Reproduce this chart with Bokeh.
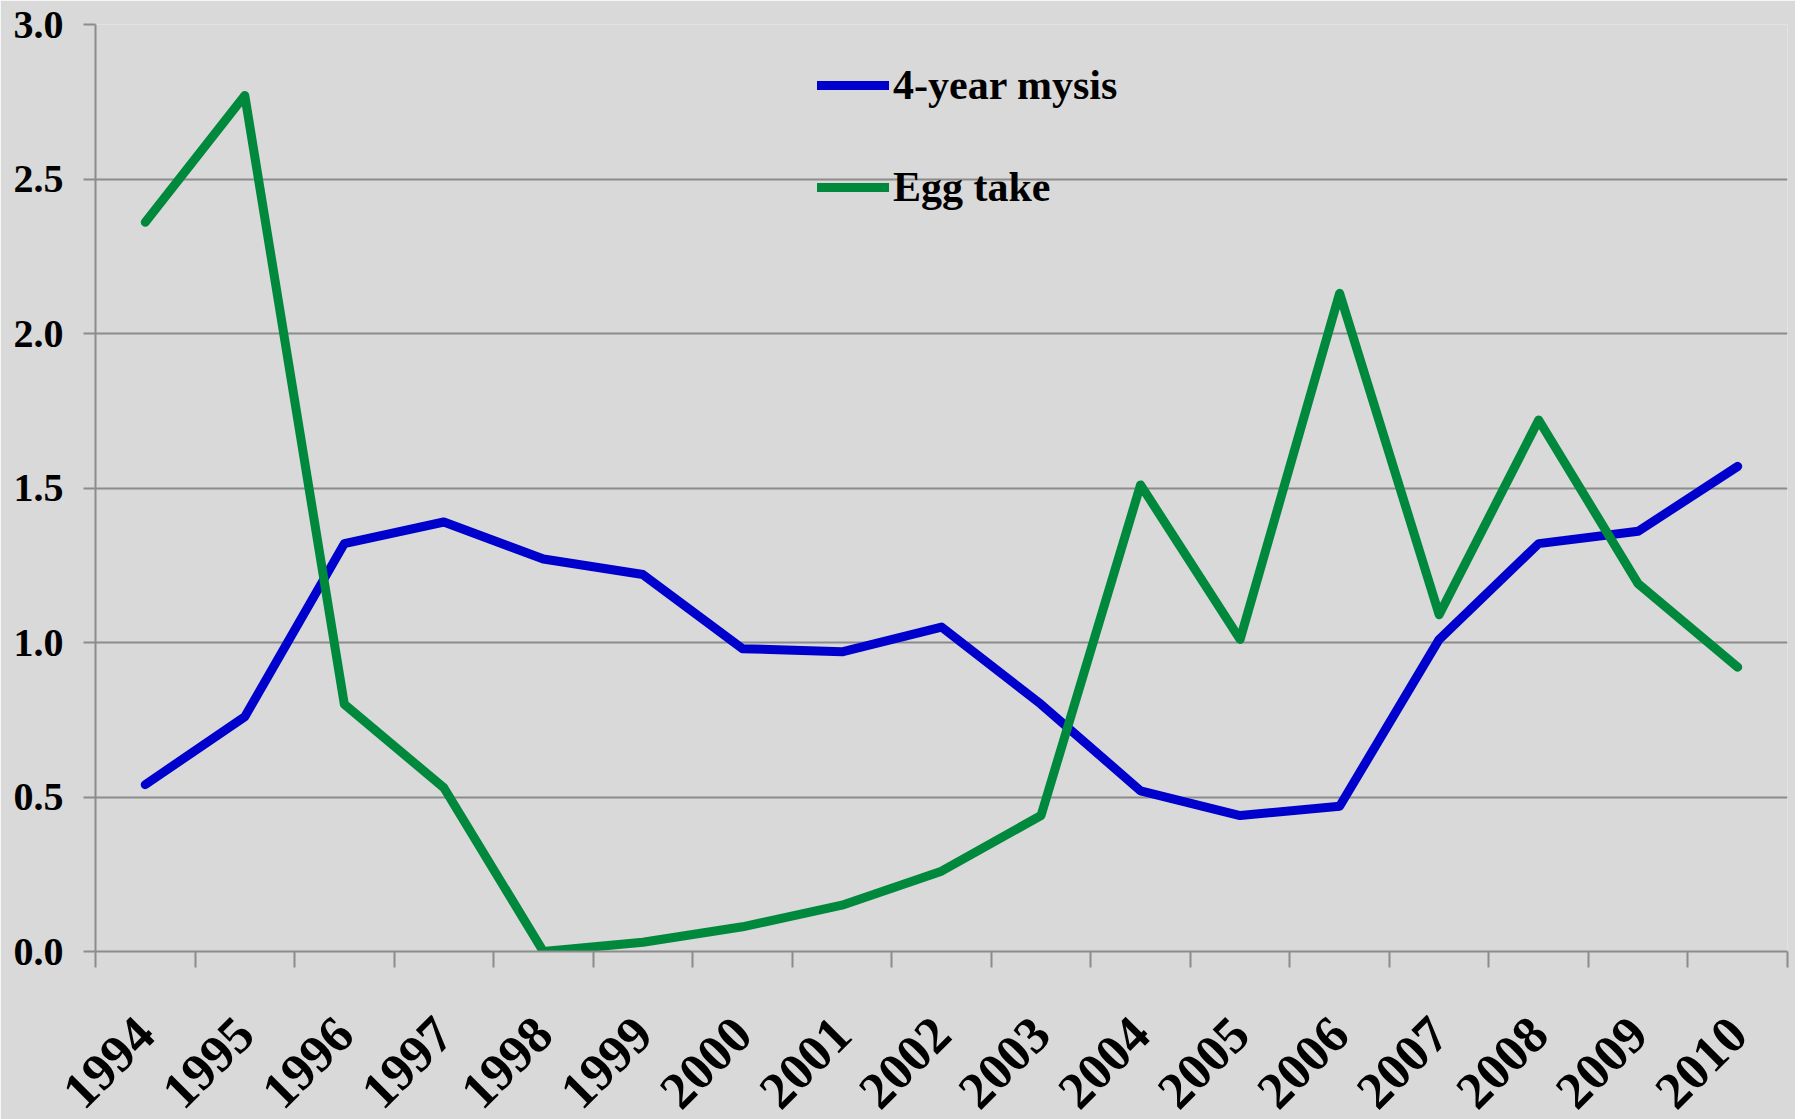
from bokeh.plotting import figure
from bokeh.models import FixedTicker, NumeralTickFormatter, Legend, LegendItem, Range1d
from bokeh.embed import file_html
from bokeh.resources import INLINE
import math

years = [1994, 1995, 1996, 1997, 1998, 1999, 2000, 2001, 2002,
         2003, 2004, 2005, 2006, 2007, 2008, 2009, 2010]
mysis = [0.54, 0.76, 1.32, 1.39, 1.27, 1.22, 0.98, 0.97, 1.05,
         0.80, 0.52, 0.44, 0.47, 1.01, 1.32, 1.36, 1.57]
egg_take = [2.36, 2.77, 0.80, 0.53, 0.00, 0.03, 0.08, 0.15, 0.26,
            0.44, 1.51, 1.01, 2.13, 1.09, 1.72, 1.19, 0.92]
y_ticks = [0.0, 0.5, 1.0, 1.5, 2.0, 2.5, 3.0]
series_names = ["4-year mysis", "Egg take"]

BG = "#D9D9D9"
GRID = "#8C8C8C"
FONT = "Liberation Serif"

p = figure(frame_width=1692, frame_height=927,
           min_border_left=95, min_border_right=8, min_border_top=24, min_border_bottom=168,
           output_backend="svg", toolbar_location=None,
           x_range=Range1d(years[0] - 0.5, years[-1] + 0.5),
           y_range=Range1d(y_ticks[0], y_ticks[-1]))
p.background_fill_color = BG
p.border_fill_color = BG
p.outline_line_color = None

l1 = p.line(years, mysis, line_color="#0000CC", line_width=9,
            line_join="round", line_cap="round")
l2 = p.line(years, egg_take, line_color="#00893C", line_width=9,
            line_join="round", line_cap="round")

# x axis
xa = p.xaxis[0]
xa.ticker = FixedTicker(ticks=years, minor_ticks=[y - 0.5 for y in years] + [years[-1] + 0.5])
xa.formatter = NumeralTickFormatter(format="0")
xa.major_tick_line_color = None
xa.major_tick_out = 0
xa.major_tick_in = 0
xa.minor_tick_line_color = GRID
xa.minor_tick_line_width = 2
xa.minor_tick_out = 16
xa.minor_tick_in = 0
xa.axis_line_color = GRID
xa.axis_line_width = 2
xa.major_label_orientation = math.pi / 4
xa.major_label_standoff = 58
xa.major_label_text_font = FONT
xa.major_label_text_font_style = "bold"
xa.major_label_text_font_size = "52px"
xa.major_label_text_color = "black"

# y axis
ya = p.yaxis[0]
ya.ticker = FixedTicker(ticks=y_ticks, minor_ticks=[])
ya.formatter = NumeralTickFormatter(format="0.0")
ya.major_tick_line_color = GRID
ya.major_tick_line_width = 2
ya.major_tick_out = 12
ya.major_tick_in = 0
ya.minor_tick_line_color = None
ya.axis_line_color = GRID
ya.axis_line_width = 2
ya.major_label_standoff = 20
ya.major_label_text_font = FONT
ya.major_label_text_font_style = "bold"
ya.major_label_text_font_size = "40px"
ya.major_label_text_color = "black"

p.xgrid.grid_line_color = None
p.ygrid.grid_line_color = GRID
p.ygrid.grid_line_width = 2

legend = Legend(items=[LegendItem(label=series_names[0], renderers=[l1]),
                       LegendItem(label=series_names[1], renderers=[l2])],
                location=(722, 740))
legend.border_line_color = None
legend.background_fill_alpha = 0
legend.padding = 0
legend.margin = 0
legend.spacing = 54
legend.glyph_width = 72
legend.glyph_height = 40
legend.label_height = 40
legend.label_standoff = 4
legend.label_text_font = FONT
legend.label_text_font_style = "bold"
legend.label_text_font_size = "42px"
legend.label_text_color = "black"
p.add_layout(legend, "center")

open("out.html", "w").write(file_html(p, INLINE))
